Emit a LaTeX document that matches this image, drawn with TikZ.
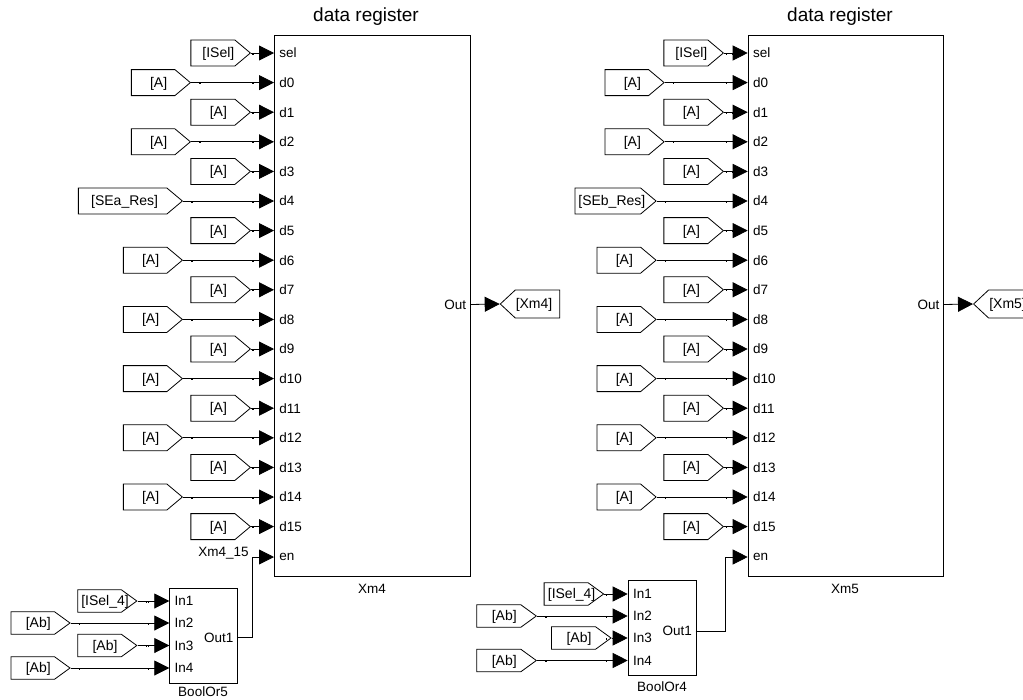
\documentclass[tikz,border=0pt]{standalone}
\usepackage{fontspec}
\setmainfont{Liberation Sans}
\usetikzlibrary{arrows.meta, shapes.symbols, decorations.markings}

\newcommand{\sz}[1]{\fontsize{#1}{#1}\selectfont}
\newcommand{\taglbl}[1]{\raisebox{-4.5pt}[0pt][0pt]{\makebox[0pt]{\hspace{11pt}#1}}}

\begin{document}
\begin{tikzpicture}[
		x=1pt, y=-1pt,
		line width=0.8pt,
		>={Triangle[length=15pt,width=15pt]},
		block/.style={rectangle, draw, line width=0.9pt, anchor=north west, inner sep=0pt},
		title/.style={font=\sz{19}, inner sep=0pt},
		caption/.style={font=\sz{13.5}, inner sep=0pt},
		portin/.style={font=\sz{13.5}, anchor=west, inner ysep=0pt, inner xsep=5pt},
		portout/.style={font=\sz{13.5}, anchor=east, inner ysep=0pt, inner xsep=3.5pt},
		tag/.style={signal, signal to=east, signal pointer angle=80, draw, inner sep=0pt,
			minimum height=26pt, anchor=east, font=\sz{14}},
		smalltag/.style={tag, signal pointer angle=72, minimum height=22.6pt},
		outtag/.style={tag, signal to=west, signal pointer angle=86, minimum height=28pt, anchor=west},
		wire/.style={->, postaction={decorate}, decoration={markings,
				mark=at position 9pt with {\fill (-0.7pt,-1.6pt) rectangle (0.7pt,0pt);},
				mark=at position 1 with {\fill (-21.7pt,-1.6pt) rectangle (-20.3pt,0pt);}}}
		]
		
		\clip (0,0) rectangle (1023,699);
		
		% Left data register
		\node[title] at (366,17) {data register};
		\node[block, minimum width=196pt, minimum height=541pt] (xmfour) at (274,35) {};
		\node[caption] at (372,589) {Xm4};
		\foreach \i/\port/\txt/\tw/\tip in {
			0/sel/{[ISel]}/59.5/251, 1/d0/{[A]}/59/191, 2/d1/{[A]}/59.5/251, 3/d2/{[A]}/59/191,
			4/d3/{[A]}/59.5/251, 5/d4/{\hspace{-7pt}[SEa\_Res]}/104/183, 6/d5/{[A]}/59.5/251, 7/d6/{[A]}/59/183,
			8/d7/{[A]}/59.5/251, 9/d8/{[A]}/59/183, 10/d9/{[A]}/59.5/251, 11/d10/{[A]}/59/183,
			12/d11/{[A]}/59.5/251, 13/d12/{[A]}/59/183, 14/d13/{[A]}/59.5/251, 15/d14/{[A]}/59/183,
			16/d15/{[A]}/59.5/251} {
			\node[portin] (four\port) at (274,53+29.6*\i) {\port};
			\node[tag, minimum width=\tw pt] (tagfour\port) at (\tip,53+29.6*\i) {\taglbl{\txt}};
			\draw[wire] (tagfour\port.east) -- (four\port.west);
		}
		\node[portin] (fouren) at (274,557) {en};
		\node[portout] (fourout) at (470,304.5) {Out};
		\node[outtag, minimum width=59.5pt] (tagfourout) at (499.7,304) {\taglbl{\hspace{-18pt}[Xm4]}};
		\draw[->] (fourout.east) -- (tagfourout.west);
		\node[font=\sz{13.5}, anchor=east, inner sep=0pt] at (249,553) {Xm4\_15};
		
		% Left BoolOr block
		\node[block, minimum width=68pt, minimum height=95pt] (boolfive) at (169.3,587.7) {};
		\node[caption] at (203,692) {BoolOr5};
		\foreach \i/\txt/\tip/\yy in {1/{[ISel\_4]}/137.5/601, 2/{[Ab]}/70.7/623, 3/{[Ab]}/137.5/645.5, 4/{[Ab]}/70.7/668} {
			\node[portin] (fivein\i) at (169.3,\yy) {In\i};
			\node[smalltag, minimum width=59pt] (tagfive\i) at (\tip,\yy) {\taglbl{\txt}};
			\draw[wire] (tagfive\i.east) -- (fivein\i.west);
		}
		\node[portout] (fiveout) at (237.3,637.7) {Out1};
		\coordinate (fivebend) at (252.3,637.7);
		\draw[->] (fiveout.east) -- (fivebend) |- (fouren.west);
		
		% Right data register
		\node[title] at (840,17) {data register};
		\node[block, minimum width=195.5pt, minimum height=541pt] (xmfive) at (747.7,35) {};
		\node[caption] at (845,589) {Xm5};
		\foreach \i/\port/\txt/\tw/\tip in {
			0/sel/{[ISel]}/59.5/724, 1/d0/{[A]}/59/664.7, 2/d1/{[A]}/59.5/724, 3/d2/{[A]}/59/664.7,
			4/d3/{[A]}/59.5/724, 5/d4/{\hspace{-3pt}[SEb\_Res]}/81/656.7, 6/d5/{[A]}/59.5/724, 7/d6/{[A]}/59/656.7,
			8/d7/{[A]}/59.5/724, 9/d8/{[A]}/59/656.7, 10/d9/{[A]}/59.5/724, 11/d10/{[A]}/59/656.7,
			12/d11/{[A]}/59.5/724, 13/d12/{[A]}/59/656.7, 14/d13/{[A]}/59.5/724, 15/d14/{[A]}/59/656.7,
			16/d15/{[A]}/59.5/724} {
			\node[portin] (five\port) at (747.7,53+29.6*\i) {\port};
			\node[tag, minimum width=\tw pt] (tagxfive\port) at (\tip,53+29.6*\i) {\taglbl{\txt}};
			\draw[wire] (tagxfive\port.east) -- (five\port.west);
		}
		\node[portin] (fiveen) at (747.7,557) {en};
		\node[portout] (fiveoutlbl) at (943.2,304.5) {Out};
		\node[outtag, minimum width=60pt] (tagxfiveout) at (973,304) {\taglbl{\hspace{-18pt}[Xm5]}};
		\draw[->] (fiveoutlbl.east) -- (tagxfiveout.west);
		
		% Right BoolOr block
		\node[block, minimum width=68pt, minimum height=95pt] (boolfour) at (627.7,580) {};
		\node[caption] at (662,687) {BoolOr4};
		\foreach \i/\txt/\tip/\yy in {1/{[ISel\_4]}/604.3/594, 2/{[Ab]}/537/616, 3/{[Ab]}/611.7/638, 4/{[Ab]}/537/660.5} {
			\node[portin] (fourin\i) at (627.7,\yy) {In\i};
			\node[smalltag, minimum width=59.5pt] (tagbfour\i) at (\tip,\yy) {\taglbl{\txt}};
			\draw[wire] (tagbfour\i.east) -- (fourin\i.west);
		}
		\node[portout] (boutlbl) at (695.7,631) {Out1};
		\coordinate (fourbend) at (725.3,631);
		\draw[->] (boutlbl.east) -- (fourbend) |- (fiveen.west);
		
	\end{tikzpicture}
\end{document}
